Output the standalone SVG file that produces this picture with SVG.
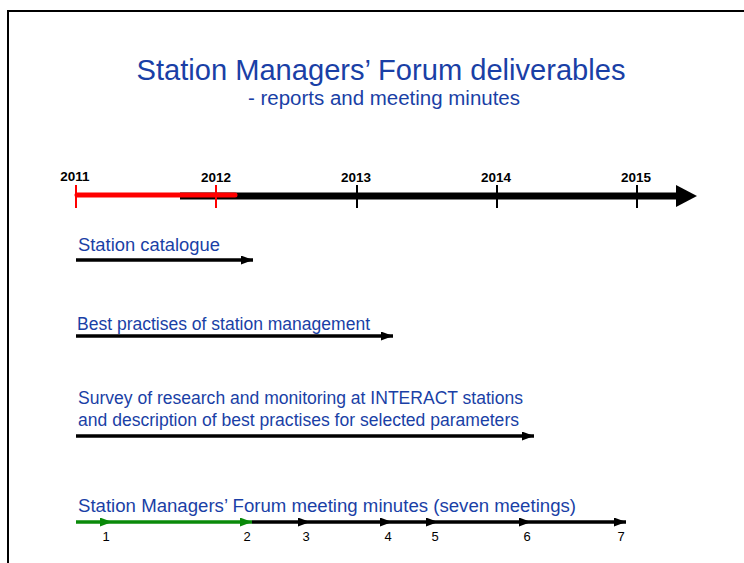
<svg xmlns="http://www.w3.org/2000/svg" width="744" height="563" viewBox="0 0 744 563">
  <style>
    .title { font-family: "Liberation Sans", Arial, sans-serif; fill: #1a3fa6; }
    .label { font-family: "Liberation Sans", Arial, sans-serif; font-size: 17.5px; fill: #1a3fa6; }
    .year { font-family: "Liberation Sans", Arial, sans-serif; font-size: 13.5px; font-weight: bold; fill: #000; text-anchor: middle; }
    .num { font-family: "Liberation Sans", Arial, sans-serif; font-size: 13px; fill: #000; text-anchor: middle; }
    .bar { stroke: #000; stroke-width: 3.5; fill: none; }
    .gbar { stroke: #0a8a0a; stroke-width: 3.5; fill: none; }
    .tick { stroke-width: 2; }
  </style>
  <defs>
    <marker id="headK" viewBox="0 0 12 9" refX="12" refY="4.5" markerWidth="12" markerHeight="9" markerUnits="userSpaceOnUse" orient="auto">
      <path d="M0,0 L12,4.5 L0,9 Z" fill="#000"/>
    </marker>
    <marker id="headG" viewBox="0 0 12 9" refX="12" refY="4.5" markerWidth="12" markerHeight="9" markerUnits="userSpaceOnUse" orient="auto">
      <path d="M0,0 L12,4.5 L0,9 Z" fill="#0a8a0a"/>
    </marker>
  </defs>
  <rect width="744" height="563" fill="#fff"/>

  <!-- page frame -->
  <path d="M8,563 V11 H744" fill="none" stroke="#000" stroke-width="2"/>

  <g id="title">
    <text class="title" x="381" y="80" font-size="29" text-anchor="middle" textLength="489" lengthAdjust="spacingAndGlyphs">Station Managers’ Forum deliverables</text>
    <text class="title" x="384" y="105" font-size="20" text-anchor="middle" textLength="272" lengthAdjust="spacingAndGlyphs">- reports and meeting minutes</text>
  </g>

  <!-- time axis -->
  <g id="timeline">
    <line x1="180" y1="196" x2="678" y2="196" stroke="#000" stroke-width="7"/>
    <path d="M676,185 L697,196 L676,207 Z" fill="#000"/>
    <line x1="77" y1="195" x2="235" y2="195" stroke="#f00" stroke-width="5" stroke-linecap="round"/>
    <line class="tick" x1="76" y1="185" x2="76" y2="208" stroke="#f00"/>
    <line class="tick" x1="216" y1="185" x2="216" y2="208" stroke="#f00"/>
    <line class="tick" x1="357" y1="185" x2="357" y2="208" stroke="#000"/>
    <line class="tick" x1="497" y1="185" x2="497" y2="208" stroke="#000"/>
    <line class="tick" x1="637" y1="185" x2="637" y2="208" stroke="#000"/>
    <text class="year" x="75" y="181">2011</text>
    <text class="year" x="216" y="182">2012</text>
    <text class="year" x="356" y="182">2013</text>
    <text class="year" x="496" y="182">2014</text>
    <text class="year" x="636" y="182">2015</text>
  </g>

  <g id="catalogue">
    <text class="label" x="78" y="251" textLength="142" lengthAdjust="spacingAndGlyphs">Station catalogue</text>
  </g>
  <g id="best-practises">
    <text class="label" x="77" y="330" textLength="293" lengthAdjust="spacingAndGlyphs">Best practises of station management</text>
  </g>
  <g id="survey">
    <text class="label" x="78" y="404" textLength="445" lengthAdjust="spacingAndGlyphs">Survey of research and monitoring at INTERACT stations</text>
    <text class="label" x="78" y="426" textLength="441" lengthAdjust="spacingAndGlyphs">and description of best practises for selected parameters</text>
  </g>
  <g id="meetings">
    <text class="label" x="78" y="512" textLength="498" lengthAdjust="spacingAndGlyphs">Station Managers’ Forum meeting minutes (seven meetings)</text>
    <text class="num" x="106" y="541">1</text>
    <text class="num" x="247" y="541">2</text>
    <text class="num" x="306" y="541">3</text>
    <text class="num" x="388" y="541">4</text>
    <text class="num" x="435" y="541">5</text>
    <text class="num" x="527" y="541">6</text>
    <text class="num" x="621" y="541">7</text>
  </g>

  <g id="connectors">
    <line class="bar" x1="76" y1="260" x2="253" y2="260" marker-end="url(#headK)"/>
    <line class="bar" x1="76" y1="336" x2="393" y2="336" marker-end="url(#headK)"/>
    <line class="bar" x1="76" y1="436" x2="534" y2="436" marker-end="url(#headK)"/>
    <line class="gbar" x1="76" y1="522" x2="112" y2="522" marker-end="url(#headG)"/>
    <line class="gbar" x1="112" y1="522" x2="252" y2="522" marker-end="url(#headG)"/>
    <line class="bar" x1="252" y1="522" x2="310" y2="522" marker-end="url(#headK)"/>
    <line class="bar" x1="310" y1="522" x2="392" y2="522" marker-end="url(#headK)"/>
    <line class="bar" x1="392" y1="522" x2="438" y2="522" marker-end="url(#headK)"/>
    <line class="bar" x1="438" y1="522" x2="531" y2="522" marker-end="url(#headK)"/>
    <line class="bar" x1="531" y1="522" x2="626" y2="522" marker-end="url(#headK)"/>
  </g>
</svg>
